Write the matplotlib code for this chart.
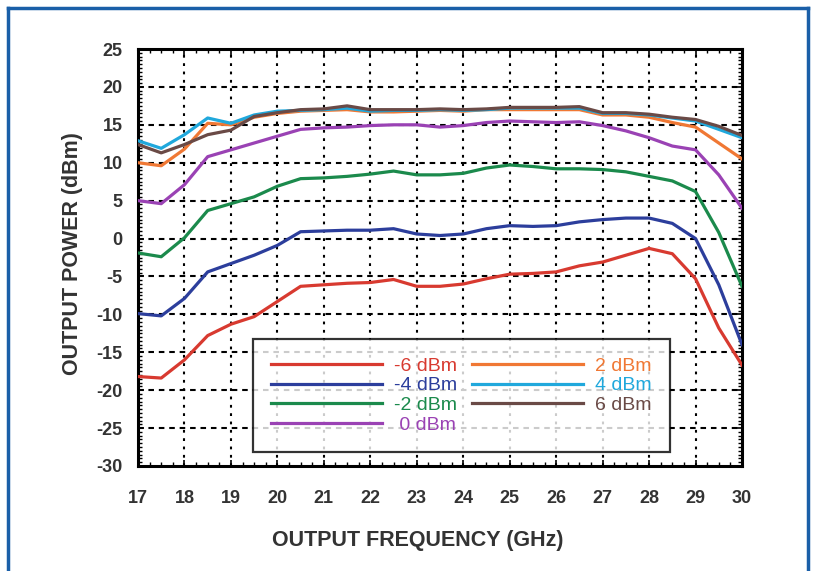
import matplotlib
matplotlib.use("Agg")
import matplotlib.pyplot as plt
from matplotlib.lines import Line2D
from matplotlib.ticker import MultipleLocator

plt.rcParams['font.family'] = ['Liberation Sans', 'DejaVu Sans']
plt.rcParams['lines.scale_dashes'] = False
plt.rcParams['axes.unicode_minus'] = False

freq = [17, 17.5, 18, 18.5, 19, 19.5, 20, 20.5, 21, 21.5, 22, 22.5, 23, 23.5,
        24, 24.5, 25, 25.5, 26, 26.5, 27, 27.5, 28, 28.5, 29, 29.5, 30]

p_m6 = [-18.2, -18.4, -16.0, -12.8, -11.3, -10.3, -8.3, -6.3, -6.1, -5.9, -5.8, -5.4, -6.3, -6.3,
        -6.0, -5.3, -4.7, -4.6, -4.4, -3.6, -3.1, -2.2, -1.3, -2.0, -5.3, -11.8, -16.7]
p_m4 = [-9.9, -10.2, -7.9, -4.4, -3.3, -2.2, -0.9, 0.9, 1.0, 1.1, 1.1, 1.3, 0.6, 0.4,
        0.6, 1.3, 1.7, 1.6, 1.7, 2.2, 2.5, 2.7, 2.7, 2.0, 0.0, -6.1, -14.0]
p_m2 = [-1.9, -2.4, 0.1, 3.7, 4.6, 5.5, 6.9, 7.9, 8.0, 8.2, 8.5, 8.9, 8.4, 8.4,
        8.6, 9.3, 9.7, 9.5, 9.2, 9.2, 9.1, 8.8, 8.2, 7.6, 6.2, 0.8, -6.3]
p_0 = [5.0, 4.6, 7.1, 10.8, 11.7, 12.6, 13.5, 14.4, 14.6, 14.7, 14.9, 15.0, 15.0, 14.7,
       14.9, 15.3, 15.5, 15.4, 15.3, 15.4, 14.9, 14.2, 13.3, 12.2, 11.7, 8.4, 4.0]
p_2 = [10.0, 9.6, 11.8, 15.2, 15.0, 16.0, 16.5, 16.8, 16.9, 17.0, 16.7, 16.7, 16.8, 16.9,
       16.8, 17.0, 17.0, 17.0, 17.0, 17.0, 16.3, 16.3, 16.0, 15.3, 14.7, 12.6, 10.5]
p_4 = [12.9, 11.9, 13.7, 15.9, 15.2, 16.3, 16.8, 16.9, 17.0, 17.2, 16.8, 16.9, 16.9, 17.0,
       16.9, 17.0, 17.2, 17.2, 17.2, 17.2, 16.5, 16.5, 16.3, 15.9, 15.5, 14.4, 13.3]
p_6 = [12.4, 11.3, 12.4, 13.7, 14.3, 16.1, 16.6, 17.0, 17.1, 17.5, 17.0, 17.0, 17.0, 17.1,
       17.0, 17.1, 17.3, 17.3, 17.3, 17.4, 16.6, 16.6, 16.4, 16.0, 15.7, 14.8, 13.6]

labels = ['-6 dBm', '-4 dBm', '-2 dBm', ' 0 dBm', '2 dBm', '4 dBm', '6 dBm']
series = [p_m6, p_m4, p_m2, p_0, p_2, p_4, p_6]
colors = ['#d83a30', '#2c3e9c', '#1b8a4c', '#9a42b4', '#f07834', '#20a8dc', '#6a4a46']

x_ticks = list(range(17, 31))
y_ticks = list(range(-30, 26, 5))

fig = plt.figure(figsize=(8.16, 5.71), dpi=100)
ax = fig.add_axes([138/816, 1-466/571, 604/816, 417/571])

for ys, c, lab in zip(series, colors, labels):
    ax.plot(freq, ys, color=c, lw=2.3, label=lab, solid_joinstyle='round', zorder=3)

ax.set_xlim(17, 30)
ax.set_ylim(-30, 25)
ax.set_xticks(x_ticks)
ax.set_yticks(y_ticks)
ax.xaxis.set_minor_locator(MultipleLocator(0.25))
ax.yaxis.set_minor_locator(MultipleLocator(0.5))

for v in x_ticks[1:-1]:
    ax.axvline(v, color='black', lw=1.5, ls=(0, (2.0, 4.0)), zorder=1)
for v in y_ticks[1:-1]:
    ax.axhline(v, color='black', lw=1.5, ls=(0, (4.0, 3.5)), zorder=1)

ax.tick_params(which='both', direction='in', top=True, right=True, color='black')
ax.tick_params(which='major', length=4, width=1.2)
ax.tick_params(which='minor', length=3, width=1.0)
ax.tick_params(axis='x', which='major', pad=17, labelsize=13, labelcolor='#333333')
ax.tick_params(axis='y', which='major', pad=11, labelsize=13, labelcolor='#333333')
for lbl in ax.get_xticklabels() + ax.get_yticklabels():
    lbl.set_fontweight('bold')
for s in ax.spines.values():
    s.set_linewidth(2.2)
    s.set_color('black')

ax.set_xlabel('OUTPUT FREQUENCY (GHz)', fontsize=15.5, fontweight='bold', color='#333333')
ax.set_ylabel('OUTPUT POWER (dBm)', fontsize=15.5, fontweight='bold', color='#333333')
ax.xaxis.set_label_coords((418-138)/604, (466-530)/417)
ax.yaxis.set_label_coords((83-138)/604, (466-254)/417)

leg = ax.legend(ncol=2, loc='upper left', bbox_to_anchor=(0.19, 0.305),
                handlelength=5.7, handletextpad=0.6, columnspacing=0.8,
                labelspacing=0.1, borderpad=0.95, fontsize=14, frameon=True,
                fancybox=False, edgecolor='black', labelcolor='linecolor',
                borderaxespad=0)
leg.get_frame().set_linewidth(1.6)
leg.set_zorder(5)

# blue outer frame
bc = '#1a5fa8'
fig.add_artist(Line2D([8/816, 808/816], [1-8/571, 1-8/571], color=bc, lw=2.5, transform=fig.transFigure))
fig.add_artist(Line2D([8/816, 8/816], [0, 1-8/571], color=bc, lw=2.5, transform=fig.transFigure))
fig.add_artist(Line2D([808/816, 808/816], [0, 1-8/571], color=bc, lw=2.5, transform=fig.transFigure))

fig.savefig('out.png', dpi=100)
